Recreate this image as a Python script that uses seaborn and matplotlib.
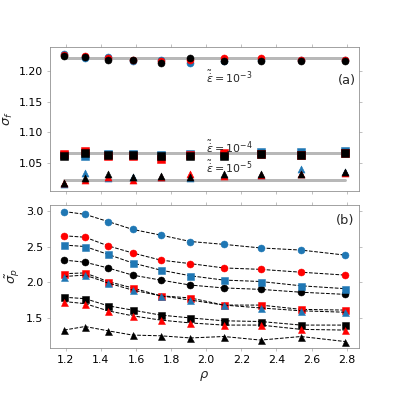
import matplotlib
matplotlib.use('Agg')
import matplotlib.pyplot as plt
import seaborn as sns

# rho values (shared x axis)
rho = [1.19, 1.31, 1.44, 1.58, 1.74, 1.91, 2.10, 2.31, 2.54, 2.79]

# panel (b): sigma_p
sp_blue_circ = [2.99, 2.95, 2.85, 2.74, 2.66, 2.57, 2.53, 2.48, 2.45, 2.38]
sp_red_circ = [2.65, 2.63, 2.51, 2.41, 2.31, 2.26, 2.20, 2.18, 2.14, 2.10]
sp_black_circ = [2.31, 2.28, 2.20, 2.10, 2.03, 1.96, 1.92, 1.90, 1.86, 1.83]
sp_blue_sq = [2.52, 2.50, 2.39, 2.27, 2.17, 2.09, 2.03, 2.01, 1.95, 1.91]
sp_red_sq = [2.12, 2.13, 2.01, 1.92, 1.81, 1.78, 1.68, 1.68, 1.62, 1.61]
sp_black_sq = [1.79, 1.77, 1.67, 1.61, 1.54, 1.50, 1.46, 1.45, 1.40, 1.40]
sp_blue_tri = [2.08, 2.10, 1.99, 1.89, 1.81, 1.75, 1.68, 1.64, 1.60, 1.58]
sp_red_tri = [1.73, 1.70, 1.60, 1.53, 1.47, 1.43, 1.40, 1.40, 1.34, 1.33]
sp_black_tri = [1.33, 1.38, 1.32, 1.26, 1.25, 1.22, 1.24, 1.19, 1.24, 1.17]

# panel (a): sigma_f
sf_blue_circ = [1.229, 1.222, 1.223, 1.216, 1.219, 1.214, 1.217, 1.219, 1.219, 1.219]
sf_red_circ = [1.226, 1.225, 1.221, 1.218, 1.216, 1.218, 1.221, 1.221, 1.218, 1.218]
sf_black_circ = [1.225, 1.223, 1.218, 1.219, 1.214, 1.221, 1.217, 1.217, 1.217, 1.217]
sf_blue_sq = [1.063, 1.061, 1.064, 1.064, 1.063, 1.064, 1.063, 1.068, 1.068, 1.069]
sf_red_sq = [1.064, 1.069, 1.061, 1.061, 1.056, 1.062, 1.066, 1.064, 1.062, 1.066]
sf_black_sq = [1.060, 1.066, 1.063, 1.063, 1.061, 1.061, 1.061, 1.064, 1.063, 1.066]
sf_blue_tri = [1.014, 1.033, 1.024, 1.026, 1.027, 1.024, 1.030, 1.030, 1.039, 1.034]
sf_red_tri = [1.016, 1.022, 1.026, 1.022, 1.027, 1.031, 1.028, 1.029, 1.031, 1.033]
sf_black_tri = [1.016, 1.024, 1.031, 1.027, 1.028, 1.027, 1.031, 1.031, 1.031, 1.035]

# mean levels (grey reference lines) and labels
sf_levels = [1.222, 1.065, 1.022]
eps_labels = [r'$\tilde{\dot{\epsilon}}=10^{-3}$', r'$\tilde{\dot{\epsilon}}=10^{-4}$',
              r'$\tilde{\dot{\epsilon}}=10^{-5}$']
eps_label_y = [1.190, 1.076, 1.043]

blue, red, black = '#1f77b4', 'red', 'black'

sns.set_style('white')
plt.rcParams.update({
    'font.size': 11,
    'axes.edgecolor': '0.55',
    'axes.linewidth': 0.8,
    'xtick.bottom': True, 'xtick.top': True,
    'ytick.left': True, 'ytick.right': True,
    'xtick.direction': 'out', 'ytick.direction': 'out',
    'xtick.major.size': 3, 'ytick.major.size': 3,
    'xtick.major.width': 0.6, 'ytick.major.width': 0.6,
    'xtick.color': '0.6', 'ytick.color': '0.6',
    'xtick.labelcolor': 'black', 'ytick.labelcolor': 'black',
    'xtick.labelsize': 11, 'ytick.labelsize': 11,
})

fig = plt.figure(figsize=(399 / 72, 399 / 72), dpi=72)
ax_a = fig.add_axes([0.1253, 0.5213, 0.7744, 0.3609])
ax_b = fig.add_axes([0.1253, 0.1278, 0.7744, 0.3584], sharex=ax_a)

# panel (a)
for lvl in sf_levels:
    ax_a.plot([rho[0], rho[-1]], [lvl, lvl], color='0.72', lw=3, zorder=1)

top_series = [
    (sf_blue_circ, blue, 'o'), (sf_red_circ, red, 'o'), (sf_black_circ, black, 'o'),
    (sf_blue_sq, blue, 's'), (sf_red_sq, red, 's'), (sf_black_sq, black, 's'),
    (sf_blue_tri, blue, '^'), (sf_red_tri, red, '^'), (sf_black_tri, black, '^'),
]
for vals, c, m in top_series:
    sns.scatterplot(x=rho, y=vals, color=c, marker=m, s=50, edgecolor=c,
                    linewidth=0.5, ax=ax_a, zorder=3)

for lab, yy in zip(eps_labels, eps_label_y):
    ax_a.text(2.0, yy, lab, fontsize=11, va='center', ha='left')
ax_a.text(0.99, 0.77, '(a)', transform=ax_a.transAxes, ha='right', va='center', fontsize=13)
ax_a.set_ylabel(r'$\tilde{\sigma_f}$', fontsize=13)
ax_a.set_yticks([1.05, 1.10, 1.15, 1.20])
ax_a.tick_params(labelbottom=False)

# panel (b)
bottom_series = [
    (sp_blue_circ, blue, 'o'), (sp_red_circ, red, 'o'), (sp_black_circ, black, 'o'),
    (sp_blue_sq, blue, 's'), (sp_red_sq, red, 's'), (sp_black_sq, black, 's'),
    (sp_blue_tri, blue, '^'), (sp_red_tri, red, '^'), (sp_black_tri, black, '^'),
]
for vals, c, m in bottom_series:
    sns.lineplot(x=rho, y=vals, color='black', linestyle='--', lw=1, ax=ax_b,
                 marker=m, markersize=7, markerfacecolor=c, markeredgecolor=c,
                 markeredgewidth=0.5)

ax_b.text(0.985, 0.89, '(b)', transform=ax_b.transAxes, ha='right', va='center', fontsize=13)
ax_b.set_ylabel(r'$\tilde{\sigma_p}$', fontsize=13)
ax_b.set_xlabel(r'$\rho$', fontsize=13)
ax_b.set_yticks([1.5, 2.0, 2.5, 3.0])
ax_b.set_xticks([1.2, 1.4, 1.6, 1.8, 2.0, 2.2, 2.4, 2.6, 2.8])

fig.savefig('out.png', dpi=72)
